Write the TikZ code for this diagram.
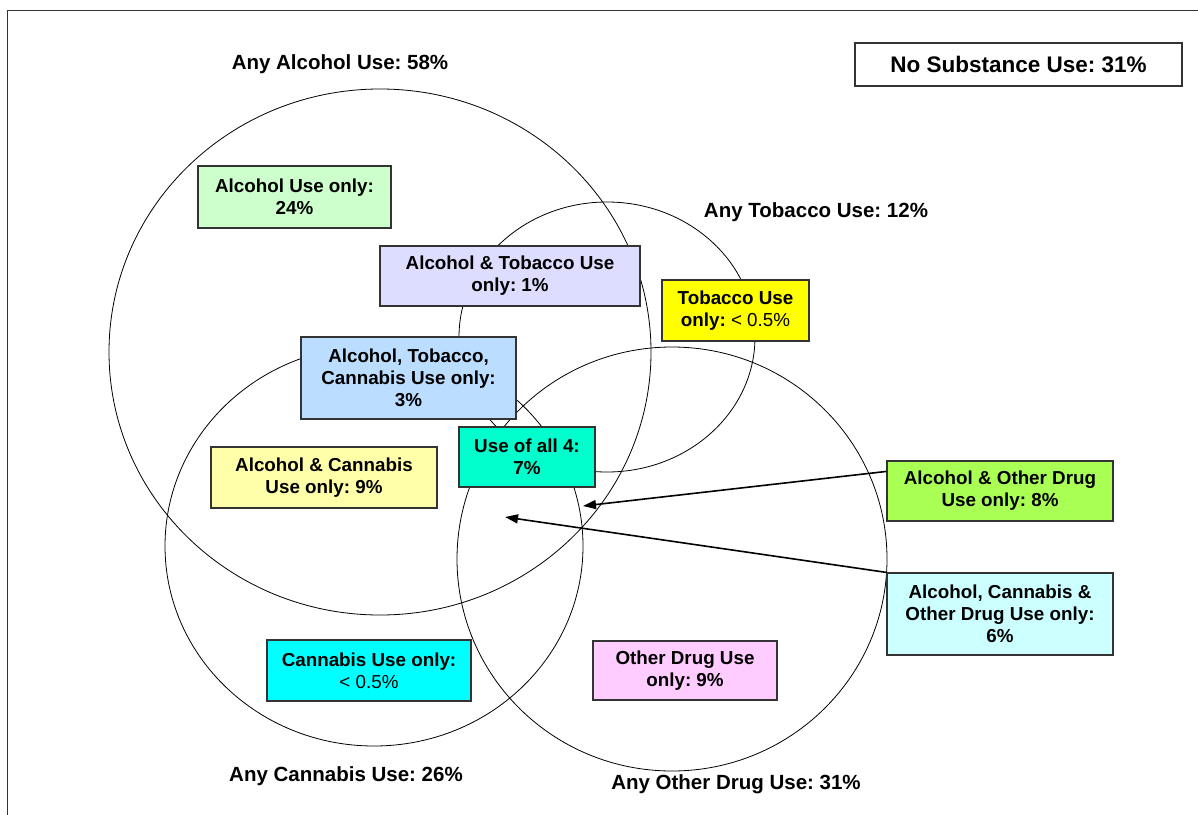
\documentclass[tikz,border=0pt]{standalone}
\usepackage{fontspec}
\setmainfont{Liberation Sans}
\usetikzlibrary{arrows.meta,calc}
\frenchspacing
\definecolor{cAlc}{HTML}{CCFFCC}
\definecolor{cAT}{HTML}{DDDDFF}
\definecolor{cTob}{HTML}{FFFF00}
\definecolor{cATC}{HTML}{BBDDFF}
\definecolor{cAll}{HTML}{00FFCC}
\definecolor{cAC}{HTML}{FFFFAA}
\definecolor{cAO}{HTML}{AAFF55}
\definecolor{cACO}{HTML}{CCFFFF}
\definecolor{cCan}{HTML}{00FFFF}
\definecolor{cOth}{HTML}{FFCCFF}
\tikzset{
  box/.style={draw=black!80, line width=1.2pt, align=center, inner sep=0pt,
    font=\bfseries\fontsize{18.8}{22}\selectfont},
  ring/.style={draw=black, line width=0.8pt},
  lbl/.style={font=\bfseries\fontsize{20.5}{24}\selectfont, inner sep=0pt},
  pointer/.style={draw=black, line width=1.6pt, -{Triangle[length=13pt,width=9pt]}}
}
\begin{document}
\frenchspacing
\begin{tikzpicture}[x=1pt,y=-1pt]
\useasboundingbox (0,0) rectangle (1198,814);
\clip (0,0) rectangle (1198,814);
\fill[white] (0,0) rectangle (1198,814);
\draw[line width=1pt, black!80] (7,10) rectangle (1230,850);
% circles
\draw[ring] (380,352) ellipse [x radius=271pt, y radius=263pt];
\draw[ring] (607,337) ellipse [x radius=148pt, y radius=135pt];
\draw[ring] (374,546) ellipse [x radius=209pt, y radius=200pt];
\draw[ring] (672,559) ellipse [x radius=215pt, y radius=212pt];
% labels
\node[lbl] (lA) at (340,64) {Any Alcohol Use: 58\%};
\node[lbl] (lT) at (816,212) {Any Tobacco Use: 12\%};
\node[lbl] (lC) at (346,776) {Any Cannabis Use: 26\%};
\node[lbl] (lO) at (736,784) {Any Other Drug Use: 31\%};
\node[box, fill=white, minimum width=327pt, minimum height=43pt, font=\bfseries\fontsize{22.5}{26}\selectfont] (nos) at (1018.5,64.5) {No Substance Use: 31\%};
% boxes
\node[box, fill=cAlc, minimum width=193pt, minimum height=62pt] (alc) at (294.5,197) {Alcohol Use only:\\24\%};
\node[box, fill=cAT, minimum width=260pt, minimum height=60pt] (at) at (510,276) {Alcohol \& Tobacco Use\\only: 1\%};
\node[box, fill=cTob, minimum width=147pt, minimum height=61pt] (tob) at (735.5,310.5) {Tobacco Use\\only: {\mdseries < 0.5\%}};
\node[box, fill=cATC, minimum width=215pt, minimum height=82pt] (atc) at (408.5,378) {Alcohol, Tobacco,\\Cannabis Use only:\\3\%};
\node[box, fill=cAll, minimum width=136pt, minimum height=60pt] (all) at (527,457) {Use of all 4:\\7\%};
\node[box, fill=cAC, minimum width=226pt, minimum height=61pt] (ac) at (324,477.5) {Alcohol \& Cannabis\\Use only: 9\%};
\node[box, fill=cAO, minimum width=226pt, minimum height=60pt] (ao) at (1000,491) {Alcohol \& Other Drug\\Use only: 8\%};
\node[box, fill=cACO, minimum width=226pt, minimum height=82pt] (aco) at (1000,614) {Alcohol, Cannabis \&\\Other Drug Use only:\\6\%};
\node[box, fill=cCan, minimum width=204pt, minimum height=61pt] (can) at (369,670.5) {Cannabis Use only:\\{\mdseries < 0.5\%}};
\node[box, fill=cOth, minimum width=184pt, minimum height=59pt] (oth) at (685,670.5) {Other Drug Use\\only: 9\%};
% arrows
\coordinate (t1) at (583,506);
\coordinate (t2) at (505,517);
\draw[pointer] ($(ao.north west)!0.18!(ao.south west)$) -- (t1);
\draw[pointer] (aco.north west) -- (t2);
\end{tikzpicture}
\end{document}
